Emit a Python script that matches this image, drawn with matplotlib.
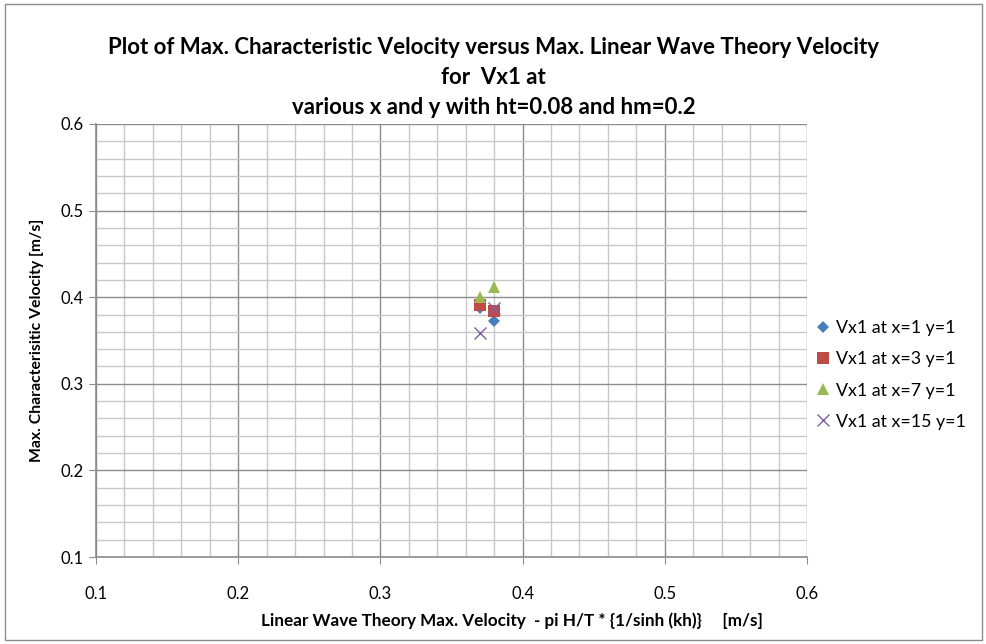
import matplotlib
matplotlib.use("Agg")
import matplotlib.pyplot as plt
from matplotlib.patches import Rectangle
from matplotlib.ticker import MultipleLocator

plt.rcParams['font.family'] = ['Lato', 'DejaVu Sans']

series_labels = ["Vx1 at x=1 y=1", "Vx1 at x=3 y=1", "Vx1 at x=7 y=1", "Vx1 at x=15 y=1"]
x_vals = [0.37, 0.38]
y_x1 = [0.387, 0.373]
y_x3 = [0.391, 0.384]
y_x7 = [0.400, 0.412]
y_x15 = [0.359, 0.388]
series_y = [y_x1, y_x3, y_x7, y_x15]
markers = ["D", "s", "^", "x"]
colors = ["#4a7ebb", "#be4b48", "#98b954", "#7d60a0"]
sizes = [6.5, 8.5, 8.5, 8]

fig = plt.figure(figsize=(9.87, 6.44), dpi=100)
ax = fig.add_axes([96/987, 1-557/644, (807-96)/987, (557-124)/644])

fig.patches.append(Rectangle((5/987, 4/644), 977/987, 636/644, transform=fig.transFigure,
                             fill=False, edgecolor="#8c8c8c", linewidth=1.0))

for y, m, c, s, lab in zip(series_y, markers, colors, sizes, series_labels):
    if m == "x":
        ax.plot(x_vals, y, linestyle="none", marker=m, color=c, markersize=s,
                markeredgewidth=1.0, label=lab, zorder=3)
    else:
        ax.plot(x_vals, y, linestyle="none", marker=m, color=c, markersize=s,
                markeredgewidth=0, label=lab, zorder=3)

ax.set_xlim(0.1, 0.6)
ax.set_ylim(0.1, 0.6)
ax.xaxis.set_major_locator(MultipleLocator(0.1))
ax.yaxis.set_major_locator(MultipleLocator(0.1))
ax.xaxis.set_minor_locator(MultipleLocator(0.02))
ax.yaxis.set_minor_locator(MultipleLocator(0.02))
ax.grid(which="major", color="#8c8c8c", linewidth=1.0)
ax.grid(which="minor", color="#c8c8c8", linewidth=1.0)
ax.set_axisbelow(True)
ax.xaxis.set_major_formatter(matplotlib.ticker.FormatStrFormatter('%.1f'))
ax.yaxis.set_major_formatter(matplotlib.ticker.FormatStrFormatter('%.1f'))
ax.tick_params(which="major", direction="out", length=5, color="#8c8c8c", labelsize=12)
ax.tick_params(axis="x", which="major", pad=16)
ax.tick_params(axis="y", which="major", pad=4)
ax.tick_params(which="minor", length=0)
for sp in ["top", "right"]:
    ax.spines[sp].set_visible(False)
for sp in ["left", "bottom"]:
    ax.spines[sp].set_color("#8c8c8c")
    ax.spines[sp].set_linewidth(1.2)

ax.set_xlabel("Linear Wave Theory Max. Velocity  - pi H/T * {1/sinh (kh)}     [m/s]",
              fontsize=12.3, fontweight="bold")
ax.xaxis.set_label_coords((512-96)/(807-96), -(621-557)/(557-124))
ax.xaxis.label.set_va("center")
ax.set_ylabel("Max. Characterisitic Velocity [m/s]", fontsize=11.3, fontweight="bold", labelpad=12)

title_fs = 16
fig.text(0.5, 1-47/644, "Plot of Max. Characteristic Velocity versus Max. Linear Wave Theory Velocity",
         ha="center", va="center", fontsize=title_fs, fontweight="bold")
fig.text(0.5, 1-77/644, "for  Vx1 at", ha="center", va="center", fontsize=title_fs, fontweight="bold")
fig.text(0.5, 1-107/644, "various x and y with ht=0.08 and hm=0.2", ha="center", va="center",
         fontsize=title_fs, fontweight="bold")

leg = ax.legend(loc="center left", bbox_to_anchor=(800/987, 1-375/644), bbox_transform=fig.transFigure,
                frameon=False, fontsize=12.8, handlelength=0.8, handletextpad=0.35, labelspacing=0.85)

fig.savefig("out.png", dpi=100)
